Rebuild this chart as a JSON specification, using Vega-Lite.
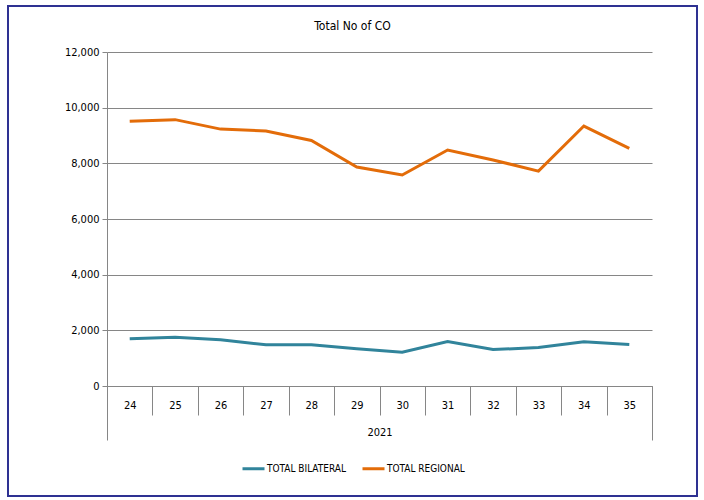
{
  "$schema": "https://vega.github.io/schema/vega-lite/v6.json",
  "width": 689,
  "height": 490,
  "autosize": {"type": "none"},
  "padding": {"left": 8, "top": 6, "right": 7, "bottom": 4},
  "background": "white",
  "config": {
    "view": {"stroke": "#2E3192", "strokeWidth": 2},
    "font": "DejaVu Sans Condensed, Liberation Sans Narrow, sans-serif"
  },
  "title": {"text": "Total No of CO", "offset": -27, "fontSize": 12, "fontWeight": "normal", "color": "#000000", "font": "DejaVu Sans Condensed, Liberation Sans Narrow, sans-serif"},
  "data": {"values": [
    {"week": "24", "year": "2021", "series": "TOTAL BILATERAL", "value": 1700},
    {"week": "25", "year": "2021", "series": "TOTAL BILATERAL", "value": 1750},
    {"week": "26", "year": "2021", "series": "TOTAL BILATERAL", "value": 1660},
    {"week": "27", "year": "2021", "series": "TOTAL BILATERAL", "value": 1480},
    {"week": "28", "year": "2021", "series": "TOTAL BILATERAL", "value": 1480},
    {"week": "29", "year": "2021", "series": "TOTAL BILATERAL", "value": 1340},
    {"week": "30", "year": "2021", "series": "TOTAL BILATERAL", "value": 1210},
    {"week": "31", "year": "2021", "series": "TOTAL BILATERAL", "value": 1600},
    {"week": "32", "year": "2021", "series": "TOTAL BILATERAL", "value": 1310},
    {"week": "33", "year": "2021", "series": "TOTAL BILATERAL", "value": 1380},
    {"week": "34", "year": "2021", "series": "TOTAL BILATERAL", "value": 1590},
    {"week": "35", "year": "2021", "series": "TOTAL BILATERAL", "value": 1490},
    {"week": "24", "year": "2021", "series": "TOTAL REGIONAL", "value": 9510},
    {"week": "25", "year": "2021", "series": "TOTAL REGIONAL", "value": 9570},
    {"week": "26", "year": "2021", "series": "TOTAL REGIONAL", "value": 9230},
    {"week": "27", "year": "2021", "series": "TOTAL REGIONAL", "value": 9160},
    {"week": "28", "year": "2021", "series": "TOTAL REGIONAL", "value": 8820},
    {"week": "29", "year": "2021", "series": "TOTAL REGIONAL", "value": 7870},
    {"week": "30", "year": "2021", "series": "TOTAL REGIONAL", "value": 7580},
    {"week": "31", "year": "2021", "series": "TOTAL REGIONAL", "value": 8480},
    {"week": "32", "year": "2021", "series": "TOTAL REGIONAL", "value": 8120},
    {"week": "33", "year": "2021", "series": "TOTAL REGIONAL", "value": 7720},
    {"week": "34", "year": "2021", "series": "TOTAL REGIONAL", "value": 9340},
    {"week": "35", "year": "2021", "series": "TOTAL REGIONAL", "value": 8540}
  ]},
  "layer": [
    {
      "mark": {"type": "line", "strokeWidth": 3},
      "encoding": {
        "x": {
          "field": "week", "type": "ordinal", "bandPosition": 0.5,
          "scale": {"type": "band", "range": [99, 644], "paddingInner": 0, "paddingOuter": 0},
          "axis": {"orient": "bottom", "offset": -110, "title": null, "labelAngle": 0, "tickBand": "extent", "tickSize": 29, "tickColor": "#868686", "domainColor": "#868686", "labelPadding": -16, "labelFontSize": 11, "labelColor": "#000000", "grid": false}
        },
        "y": {
          "field": "value", "type": "quantitative",
          "scale": {"domain": [0, 12000], "range": [380, 46], "nice": false},
          "axis": {"orient": "left", "offset": -99, "title": null, "values": [0, 2000, 4000, 6000, 8000, 10000, 12000], "format": ",.0f", "grid": true, "gridColor": "#868686", "domainColor": "#868686", "tickColor": "#868686", "tickSize": 5, "labelPadding": 3, "labelFontSize": 11, "labelColor": "#000000"}
        },
        "color": {
          "field": "series", "type": "nominal",
          "scale": {"domain": ["TOTAL BILATERAL", "TOTAL REGIONAL"], "range": ["#31849B", "#E36C09"]},
          "legend": {"orient": "none", "legendX": 233, "legendY": 450, "direction": "horizontal", "title": null, "symbolType": "stroke", "symbolStrokeWidth": 3, "symbolSize": 484, "labelFontSize": 10, "labelColor": "#000000", "columnPadding": 10, "labelOffset": 1}
        }
      }
    },
    {
      "mark": {"type": "point", "opacity": 0},
      "encoding": {
        "x": {
          "field": "year", "type": "nominal",
          "scale": {"type": "band", "range": [99, 644], "paddingInner": 0, "paddingOuter": 0},
          "axis": {"orient": "bottom", "offset": -110, "title": null, "domain": false, "labelAngle": 0, "tickBand": "extent", "tickSize": 54, "tickColor": "#868686", "labelPadding": -14, "labelFontSize": 11, "labelColor": "#000000", "grid": false}
        },
        "y": {"datum": 0}
      }
    }
  ],
  "resolve": {"scale": {"x": "independent"}}
}
